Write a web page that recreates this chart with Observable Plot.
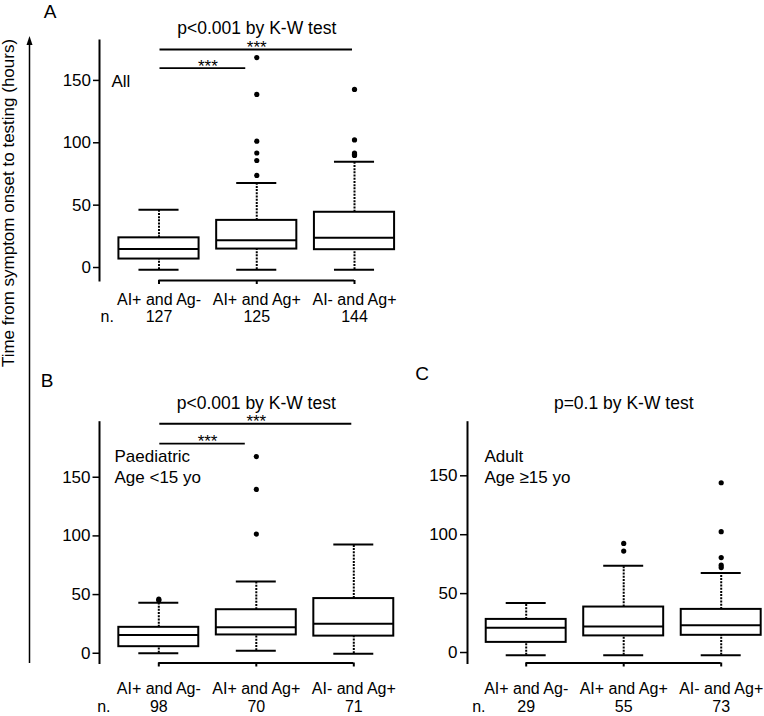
<!DOCTYPE html>
<html>
<head>
<meta charset="utf-8">
<script src="https://cdn.jsdelivr.net/npm/d3@7"></script>
<script src="https://cdn.jsdelivr.net/npm/@observablehq/plot@0.6"></script>
<style>
  body { margin: 0; background: #fff; }
  #fig { position: relative; width: 764px; height: 716px; overflow: hidden;
         font-family: "Liberation Sans", Arial, sans-serif; color: #000; background: #fff; }
  #fig .panel { position: absolute; }
  .letter { position: absolute; font-size: 19px; line-height: 1; transform: translate(-50%, -50%); }
  #ylab { position: absolute; left: 9px; top: 202.5px; font-size: 17px; white-space: nowrap;
          transform: translate(-50%, -50%) rotate(-90deg); }
  #arrow { position: absolute; left: 0; top: 0; }
</style>
</head>
<body>
<div id="fig">
  <div id="ylab">Time from symptom onset to testing (hours)</div>
  <div class="letter" style="left:50px;top:11px">A</div>
  <div class="letter" style="left:47px;top:380px">B</div>
  <div class="letter" style="left:422px;top:373px">C</div>
</div>
<script>
// Test-result groups and y ticks shared by all panels
const groups = ["AI+ and Ag-", "AI+ and Ag+", "AI- and Ag+"];
const yTicks = [0, 50, 100, 150];

// All patients: five-number summaries (hours) and outliers
const allN = [127, 125, 144];
const allLow = [1.5, 1.5, 1.5];
const allQ1 = [10, 18, 17.5];
const allMedian = [18, 25, 27];
const allQ3 = [27, 41, 47.5];
const allHigh = [49.5, 71, 88];
const allOutliers = [[], [77, 89, 95, 104.5, 142, 171.5], [93, 94, 95, 105.5, 146]];
const allTests = [
  { from: 0, to: 2, y: 178, label: "***" },
  { from: 0, to: 1, y: 163, label: "***" }
];

// Paediatric patients (< 15 years)
const paedN = [98, 70, 71];
const paedLow = [3.5, 5.5, 3];
const paedQ1 = [9, 19, 18];
const paedMedian = [19, 25.5, 28.5];
const paedQ3 = [25.5, 40.5, 50];
const paedHigh = [46.5, 64.5, 96];
const paedOutliers = [[48.5, 49.5], [105, 143, 171], []];
const paedTests = [
  { from: 0, to: 2, y: 199, label: "***" },
  { from: 0, to: 1, y: 182, label: "***" }
];

// Adult patients (>= 15 years)
const adultN = [29, 55, 73];
const adultLow = [1, 1, 1];
const adultQ1 = [12, 17.5, 18];
const adultMedian = [24.5, 25.5, 26.5];
const adultQ3 = [31.5, 42, 40];
const adultHigh = [45.5, 77, 71];
const adultOutliers = [[], [89.5, 96], [75.5, 77.5, 84, 106, 147.5]];
const adultTests = [];

const BOX = 0.41;  // half box width, in group units
const CAP = 0.205; // half whisker-cap width

function boxPanel(s, L) {
  const rows = groups.map((g, i) => ({
    i, n: s.n[i], low: s.low[i], q1: s.q1[i], median: s.median[i], q3: s.q3[i], high: s.high[i]
  }));
  const outs = s.outliers.flatMap((vs, i) => vs.map(v => ({ i, v })));
  const longTests = s.tests.filter(t => t.to - t.from > 1);
  const shortTests = s.tests.filter(t => t.to - t.from <= 1);
  return Plot.plot({
    width: L.width, height: L.height,
    marginLeft: L.marginLeft, marginRight: 0, marginTop: L.marginTop, marginBottom: L.marginBottom,
    x: { domain: L.xDomain },
    y: { domain: L.yDomain },
    style: { fontFamily: '"Liberation Sans", Arial, sans-serif', fontSize: "17px", color: "#000", background: "transparent", overflow: "visible" },
    marks: [
      Plot.frame({ anchor: "left", strokeWidth: 2 }),
      Plot.axisY(yTicks, { tickSize: L.yTickSize, tickPadding: L.yTickPadding, dy: -4, fontSize: 17, label: null, strokeWidth: 1.5 }),
      Plot.axisX([0, 1, 2], { tickFormat: i => groups[i], tickSize: 4, tickPadding: L.xTickPadding, fontSize: L.xFont, label: null, strokeWidth: 2 }),
      Plot.ruleY([L.yDomain[0]], { x1: 0, x2: 2, strokeWidth: 2 }),
      // whiskers
      Plot.ruleX(rows, { x: "i", y1: "low", y2: "q1", strokeWidth: 2, strokeDasharray: "2 1.2" }),
      Plot.ruleX(rows, { x: "i", y1: "q3", y2: "high", strokeWidth: 2, strokeDasharray: "2 1.2" }),
      Plot.ruleY(rows, { y: "low", x1: d => d.i - CAP, x2: d => d.i + CAP, strokeWidth: 2 }),
      Plot.ruleY(rows, { y: "high", x1: d => d.i - CAP, x2: d => d.i + CAP, strokeWidth: 2 }),
      // boxes and medians
      Plot.rect(rows, { x1: d => d.i - BOX, x2: d => d.i + BOX, y1: "q1", y2: "q3", fill: "white", stroke: "black", strokeWidth: 2 }),
      Plot.ruleY(rows, { y: "median", x1: d => d.i - BOX, x2: d => d.i + BOX, strokeWidth: 2 }),
      Plot.dot(outs, { x: "i", y: "v", r: 2.6, fill: "black", stroke: null }),
      // pairwise comparisons
      Plot.ruleY(longTests, { y: "y", x1: "from", x2: "to", strokeWidth: 1.8, insetLeft: 1, insetRight: 2 }),
      Plot.ruleY(shortTests, { y: "y", x1: "from", x2: "to", strokeWidth: 1.8, insetLeft: 1, insetRight: 11 }),
      Plot.text(s.tests, { x: d => (d.from + d.to) / 2, y: "y", text: "label", dy: -2, fontSize: 17, lineAnchor: "middle" }),
      // titles and annotations
      Plot.text([s.title], { x: () => 1, frameAnchor: "top", dy: L.titleDy, fontSize: 17.5, lineAnchor: "middle" }),
      Plot.text([s.note], { frameAnchor: "top-left", textAnchor: "start", lineAnchor: "top", dx: L.noteDx, dy: L.noteDy, fontSize: 17, lineHeight: 1.24 }),
      Plot.text(rows, { x: "i", text: d => String(d.n), frameAnchor: "bottom", dy: L.nDy, lineAnchor: "middle", fontSize: L.xFont }),
      Plot.text(["n."], { frameAnchor: "bottom-left", textAnchor: "start", dx: L.nDx, dy: L.nDy, lineAnchor: "middle", fontSize: L.xFont })
    ]
  });
}

const fig = document.getElementById("fig");
function place(node, left, top) {
  node.classList.add("panel");
  node.style.left = left + "px";
  node.style.top = top + "px";
  fig.appendChild(node);
}

place(boxPanel(
  { n: allN, low: allLow, q1: allQ1, median: allMedian, q3: allQ3, high: allHigh,
    outliers: allOutliers, tests: allTests, title: "p<0.001 by K-W test", note: "All" },
  { width: 382, height: 345, marginLeft: 99, marginTop: 40, marginBottom: 65,
    xDomain: [-0.6087, 2.2864], yDomain: [-7.2, 185.2],
    yTickSize: 6, yTickPadding: 2.5, xTickPadding: 8.7, xFont: 16,
    nDy: 36.7, nDx: 1, noteDx: 12, noteDy: 32, titleDy: -12 }
), 0, 0);

place(boxPanel(
  { n: paedN, low: paedLow, q1: paedQ1, median: paedMedian, q3: paedQ3, high: paedHigh,
    outliers: paedOutliers, tests: paedTests, title: "p<0.001 by K-W test", note: "Paediatric\nAge <15 yo" },
  { width: 382, height: 351, marginLeft: 99, marginTop: 56.7, marginBottom: 53.5,
    xDomain: [-0.6082, 2.2944], yDomain: [-4.9, 200.3],
    yTickSize: 6.5, yTickPadding: 2.5, xTickPadding: 15.5, xFont: 16,
    nDy: 44, nDx: -2.3, noteDx: 15, noteDy: 25, titleDy: -19 }
), 0, 365);

place(boxPanel(
  { n: adultN, low: adultLow, q1: adultQ1, median: adultMedian, q3: adultQ3, high: adultHigh,
    outliers: adultOutliers, tests: adultTests, title: "p=0.1 by K-W test", note: "Adult\nAge \u226515 yo" },
  { width: 382, height: 351, marginLeft: 85, marginTop: 56.7, marginBottom: 53.5,
    xDomain: [-0.602, 2.444], yDomain: [-5.5, 198.9],
    yTickSize: 7, yTickPadding: 3, xTickPadding: 15.5, xFont: 16,
    nDy: 44, nDx: 4.7, noteDx: 17, noteDy: 25, titleDy: -19 }
), 382, 365);

// shared y-axis arrow along the left edge
const ns = "http://www.w3.org/2000/svg";
const arrow = document.createElementNS(ns, "svg");
arrow.setAttribute("id", "arrow");
arrow.setAttribute("width", 40);
arrow.setAttribute("height", 716);
arrow.innerHTML = '<line x1="29.5" y1="44" x2="29.5" y2="663" stroke="#000" stroke-width="1.5"/>' +
  '<path d="M29.5,36 L26.5,45 L32.5,45 Z" fill="#000"/>';
fig.appendChild(arrow);
</script>
</body>
</html>
